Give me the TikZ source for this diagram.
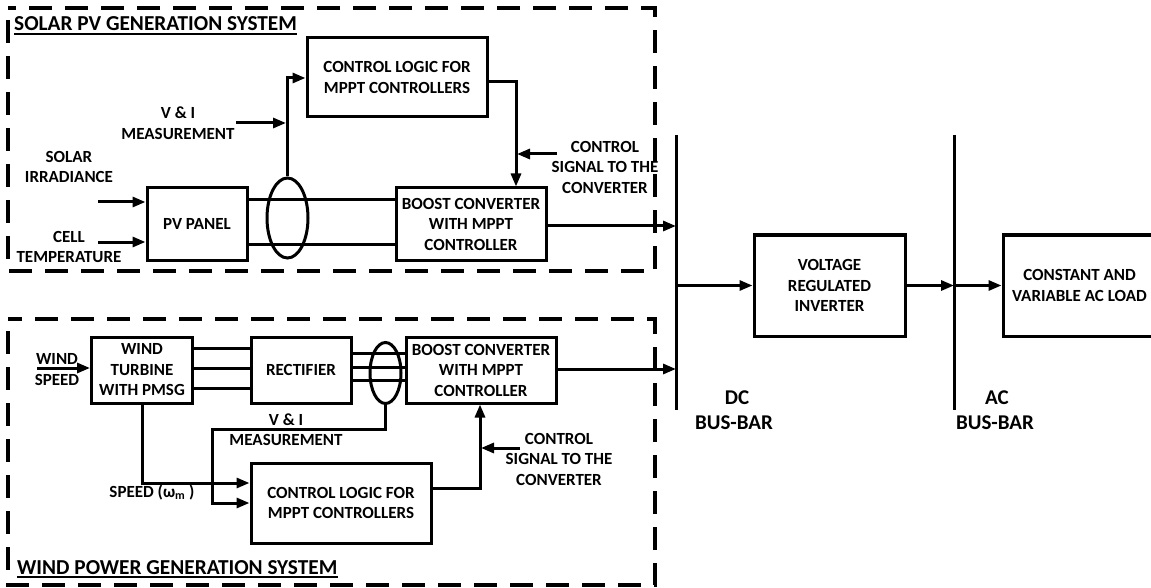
\documentclass[tikz,border=0pt]{standalone}
\usepackage{fontspec}
\setmainfont{Carlito}
\usetikzlibrary{arrows.meta,shapes.geometric}
\begin{document}
\begin{tikzpicture}[x=1pt,y=-1pt,
  every node/.style={font=\bfseries\fontsize{17}{20.5}\selectfont, align=center, inner sep=0pt},
  blk/.style={draw, line width=3pt, rectangle},
  ellnode/.style={draw, ellipse, line width=3pt},
  wire/.style={line width=3pt},
  arr/.style={wire,-{Triangle[length=13pt,width=10pt]}},
  framebox/.style={line width=3.2pt, dash pattern=on 23pt off 13pt, dash phase=-12pt},
  busline/.style={line width=3pt},
  titletext/.style={font=\bfseries\fontsize{21.3}{25}\selectfont, anchor=base west},
  bustext/.style={font=\bfseries\fontsize{21}{25}\selectfont}]
\useasboundingbox (0,0) rectangle (1151,588);
\fill[white] (0,0) rectangle (1151,588);

% ---------------- frames
\draw[framebox] (8,8) rectangle (655,271);
\draw[framebox] (8,319) rectangle (655,585);
\node[titletext] (t1) at (14,31) {SOLAR PV GENERATION SYSTEM};
\draw[line width=1.7pt] ([yshift=-3pt]t1.base west) -- ([yshift=-3pt]t1.base east);
\node[titletext] (t2) at (17,574) {WIND POWER GENERATION SYSTEM};
\draw[line width=1.7pt] ([yshift=-3pt]t2.base west) -- ([yshift=-3pt]t2.base east);

% ---------------- solar blocks
\node[blk, minimum width=180pt, minimum height=79pt] (cl1) at (397,77.5) {CONTROL LOGIC FOR\\MPPT CONTROLLERS};
\node[blk, minimum width=100pt, minimum height=72pt] (pv) at (197,224) {PV PANEL};
\node[blk, minimum width=150pt, minimum height=72pt] (bc1) at (471,224) {BOOST CONVERTER\\WITH MPPT\\CONTROLLER};
\node[ellnode, minimum width=41pt, minimum height=80pt] (e1) at (287.5,218) {};

\node (vi1t) at (178,123) {V \& I\\MEASUREMENT};
\node (cs1t) at (605,167) {CONTROL\\SIGNAL TO THE\\CONVERTER};
\node (sit) at (69,167) {SOLAR\\IRRADIANCE};
\node (ctt) at (69,247) {CELL\\TEMPERATURE};

\coordinate (vi1) at (236,123);
\coordinate (cs1) at (557,154);
\coordinate (si) at (98,202);
\coordinate (ct) at (98,242);

% ---------------- buses
\coordinate (dctop) at (676,135);
\coordinate (dcbot) at (676,410);
\coordinate (actop) at (954,135);
\coordinate (acbot) at (954,410);
\draw[busline] (dctop) -- (dcbot);
\draw[busline] (actop) -- (acbot);
\node[bustext] (dct) at (737,398) {DC};
\node[bustext] (dcb) at (734,423) {BUS-BAR};
\node[bustext] (act) at (997,398) {AC};
\node[bustext] (acb) at (995,423) {BUS-BAR};

\node[blk, minimum width=151pt, minimum height=101pt] (inv) at (829.5,285.5) {VOLTAGE\\REGULATED\\INVERTER};
\node[blk, minimum width=153pt, minimum height=101pt] (load) at (1079.5,285.5) {CONSTANT AND\\VARIABLE AC LOAD};

% ---------------- solar connectors
\draw[wire] (pv.east |- 0,200) -- (bc1.west |- 0,200);
\draw[wire] (pv.east |- 0,244) -- (bc1.west |- 0,244);
\draw[arr] (e1.north) -- (e1.north |- 0,78) -- (cl1.west |- 0,78);
\draw[arr] (vi1) -- (286,123);
\draw[arr] (cl1.east |- 0,82) -- (516,82) -- (bc1.north -| 516,0);
\draw[arr] (cs1) -- (517,154);
\draw[arr] (si) -- (pv.west |- si);
\draw[arr] (ct) -- (pv.west |- ct);
\draw[arr] (bc1.east |- 0,226) -- (dctop |- 0,226);

% ---------------- wind blocks
\node[blk, minimum width=101pt, minimum height=66pt] (wt) at (142,370) {WIND\\TURBINE\\WITH PMSG};
\node[blk, minimum width=100pt, minimum height=66pt] (rect) at (301,370) {RECTIFIER};
\node[blk, minimum width=150pt, minimum height=66pt] (bc2) at (481,370) {BOOST CONVERTER\\WITH MPPT\\CONTROLLER};
\node[blk, minimum width=180pt, minimum height=80pt] (cl2) at (341,503) {CONTROL LOGIC FOR\\MPPT CONTROLLERS};
\node[ellnode, minimum width=31pt, minimum height=61pt] (e2) at (385.5,373) {};

\node (wst) at (57,369.5) {WIND\\SPEED};
\node (vi2t) at (286,429.5) {V \& I\\MEASUREMENT};
\node (spt) at (152,492) {SPEED (ω\textsubscript{m} )};
\node (cs2t) at (559,459) {CONTROL\\SIGNAL TO THE\\CONVERTER};

\coordinate (ws) at (37,368);
\coordinate (cs2) at (520,448);

% ---------------- wind connectors
\foreach \yy in {348,368,388} \draw[wire] (wt.east |- 0,\yy) -- (rect.west |- 0,\yy);
\foreach \yy in {353,367,380} \draw[wire] (rect.east |- 0,\yy) -- (bc2.west |- 0,\yy);
\draw[arr] (ws) -- (wt.west |- ws);
\draw[arr] (wt.south) -- (wt.south |- 0,483) -- (cl2.west |- 0,483);
\draw[arr] (e2.south) -- (e2.south |- 0,429) -- (212,429) -- (212,503) -- (cl2.west |- 0,503);
\draw[arr] (cl2.east |- 0,488) -- (480,488) -- (bc2.south -| 480,0);
\draw[arr] (cs2) -- (481,448);
\draw[arr] (bc2.east |- 0,369) -- (dctop |- 0,369);

% ---------------- inverter / load connectors
\draw[arr] (dctop |- 0,285.5) -- (inv.west);
\draw[arr] (inv.east) -- (actop |- 0,285.5);
\draw[arr] (actop |- 0,285.5) -- (load.west);
\end{tikzpicture}
\end{document}
